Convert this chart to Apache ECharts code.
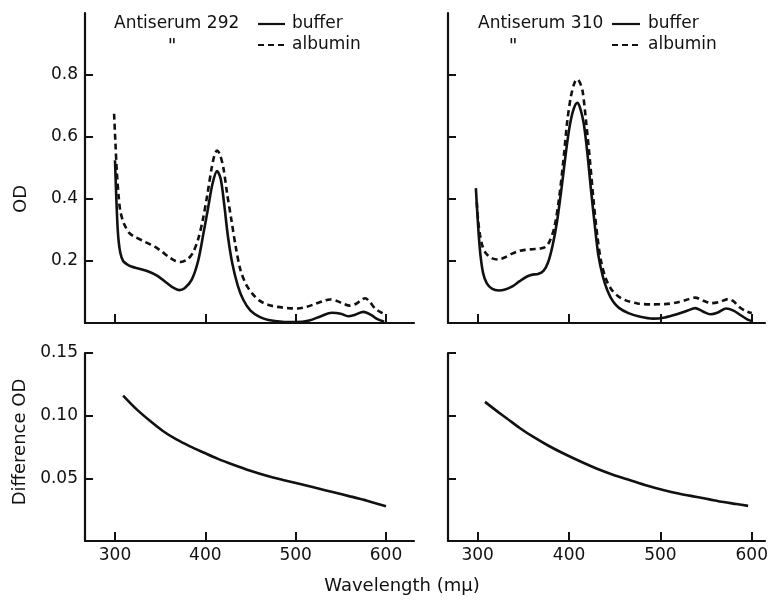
<!DOCTYPE html>
<html>
<head>
<meta charset="utf-8">
<script src="https://cdn.jsdelivr.net/npm/echarts@6/dist/echarts.min.js"></script>
<style>html,body{margin:0;padding:0;background:#fff}#c{width:772px;height:600px}</style>
</head>
<body>
<div id="c"></div>
<script>
// ---- data ----
var xTicks = [300, 400, 500, 600];
var odTicks = [0.2, 0.4, 0.6, 0.8];
var diffTicks = [0.05, 0.10, 0.15];

// Antiserum 292, buffer (wavelength, OD)
var wl292Buffer = [300,301,302.5,304,306,309,313,318,327,337,347,357,365,371,377,385,392,398,403,408,413,417,421,425,430,436,442,450,460,470,485,500,515,528,540,550,558,566,575,583,590,598];
var od292Buffer = [0.525,0.44,0.33,0.265,0.225,0.2,0.19,0.182,0.175,0.166,0.152,0.13,0.113,0.106,0.112,0.14,0.2,0.29,0.37,0.45,0.49,0.465,0.38,0.28,0.19,0.12,0.075,0.04,0.02,0.01,0.004,0.003,0.008,0.022,0.033,0.03,0.022,0.027,0.036,0.027,0.013,0.004];
// Antiserum 292, albumin
var wl292Albumin = [299,300.5,302,304,306,310,316,322,333,344,352,360,367,373,380,386,392,397,402,407,410,413,416,420,424,429,434,439,445,452,460,470,480,492,502,512,522,530,538,545,553,560,567,572,577,582,588,594,600];
var od292Albumin = [0.675,0.58,0.49,0.41,0.36,0.32,0.29,0.278,0.262,0.246,0.23,0.212,0.2,0.197,0.205,0.225,0.27,0.33,0.41,0.5,0.54,0.556,0.545,0.5,0.42,0.33,0.24,0.17,0.125,0.095,0.072,0.058,0.052,0.048,0.047,0.052,0.062,0.07,0.076,0.072,0.062,0.056,0.062,0.073,0.08,0.068,0.047,0.035,0.027];
// Antiserum 310, buffer
var wl310Buffer = [298,299.5,301,303,306,310,316,323,330,338,346,354,360,366,372,377,382,387,392,397,401,405,409,412,416,420,424,428,432,437,442,448,455,465,478,492,505,518,530,538,546,555,563,572,580,588,595,600];
var od310Buffer = [0.435,0.36,0.29,0.22,0.16,0.128,0.11,0.105,0.108,0.118,0.135,0.15,0.156,0.158,0.168,0.195,0.25,0.33,0.44,0.56,0.64,0.69,0.71,0.695,0.645,0.55,0.43,0.32,0.22,0.15,0.105,0.07,0.048,0.032,0.02,0.014,0.018,0.028,0.04,0.048,0.038,0.028,0.034,0.047,0.04,0.025,0.012,0.006];
// Antiserum 310, albumin
var wl310Albumin = [299,300.5,302.5,305,309,315,322,330,337,345,352,360,368,374,379,384,389,394,398,402,406,409,412,415,419,423,427,431,435,440,446,453,462,475,490,505,518,528,538,547,556,565,574,580,587,594,600];
var od310Albumin = [0.39,0.33,0.285,0.25,0.225,0.21,0.205,0.212,0.223,0.232,0.236,0.238,0.24,0.245,0.265,0.31,0.4,0.53,0.65,0.73,0.775,0.786,0.775,0.745,0.64,0.52,0.39,0.28,0.2,0.145,0.11,0.088,0.073,0.063,0.06,0.061,0.066,0.074,0.082,0.072,0.064,0.068,0.077,0.07,0.05,0.038,0.032];
// Difference OD
var wl292Diff = [309,324,339,353,368,383,398,414,431,449,468,486,505,523,542,560,579,600];
var od292Diff = [0.116,0.105,0.0957,0.0878,0.081,0.0755,0.0706,0.0655,0.0608,0.0562,0.052,0.0487,0.0455,0.0422,0.0389,0.0356,0.0322,0.0278];
var wl310Diff = [308,320,332,346,361,377,394,412,430,448,467,485,503,521,540,555,569,583,596];
var od310Diff = [0.111,0.1042,0.0978,0.0902,0.083,0.0762,0.0698,0.0636,0.0578,0.0529,0.0485,0.0443,0.0407,0.0377,0.0351,0.033,0.0311,0.0295,0.028];

function pairs(xs, ys){ return xs.map(function(x,i){ return [x, ys[i]]; }); }

var FONT = 'DejaVu Sans';
var black = '#111';

function xAxisCfg(idx, min, max, showLabels){
  return {
    type:'value', gridIndex: idx, min:min, max:max,
    axisLine:{show:true, onZero:false, lineStyle:{color:black, width:2.2}},
    axisTick:{show:true, inside:true, length:9, customValues:xTicks, lineStyle:{color:black, width:2}},
    axisLabel:{show:showLabels, customValues:xTicks, margin:6, color:black, fontFamily:FONT, fontSize:17},
    splitLine:{show:false}
  };
}
function yAxisCfg(idx, min, max, ticks, showLabels, dec){
  return {
    type:'value', gridIndex: idx, min:min, max:max,
    axisLine:{show:true, onZero:false, lineStyle:{color:black, width:2.2}},
    axisTick:{show:true, inside:true, length:8, customValues:ticks, lineStyle:{color:black, width:2}},
    axisLabel:{show:showLabels, customValues:ticks, margin:7, color:black, fontFamily:FONT, fontSize:17,
      formatter:function(v){ return v.toFixed(dec); }},
    splitLine:{show:false}
  };
}
function lineSeries(xi, yi, data, dashed){
  return {
    type:'line', xAxisIndex:xi, yAxisIndex:yi, data:data, showSymbol:false, symbol:'none',
    smooth:0.3, animation:false,
    lineStyle:{color:black, width:2.6, type: dashed ? [6,4] : 'solid'}
  };
}

var chart = echarts.init(document.getElementById('c'), null, {renderer:'canvas'});
var option = {
  backgroundColor:'#fff',
  animation:false,
  grid:[
    {left:85, top:13, width:329, height:310},
    {left:448, top:13, width:317, height:310},
    {left:85, top:353, width:329, height:188},
    {left:448, top:353, width:317, height:188}
  ],
  xAxis:[
    xAxisCfg(0, 266.8, 631, false),
    xAxisCfg(1, 267.5, 614.5, false),
    xAxisCfg(2, 266.8, 631, true),
    xAxisCfg(3, 267.5, 614.5, true)
  ],
  yAxis:[
    yAxisCfg(0, 0, 1.0, odTicks, true, 1),
    yAxisCfg(1, 0, 1.0, odTicks, false, 1),
    yAxisCfg(2, 0, 0.15, diffTicks, true, 2),
    yAxisCfg(3, 0, 0.15, diffTicks, false, 2)
  ],
  series:[
    lineSeries(0,0,pairs(wl292Buffer, od292Buffer), false),
    lineSeries(0,0,pairs(wl292Albumin, od292Albumin), true),
    lineSeries(1,1,pairs(wl310Buffer, od310Buffer), false),
    lineSeries(1,1,pairs(wl310Albumin, od310Albumin), true),
    lineSeries(2,2,pairs(wl292Diff, od292Diff), false),
    lineSeries(3,3,pairs(wl310Diff, od310Diff), false)
  ],
  graphic:[
    {type:'text', x:21, y:199, rotation:Math.PI/2, style:{text:'OD', font:'18px "DejaVu Sans"', fill:black, align:'center', verticalAlign:'middle'}},
    {type:'text', x:20, y:442, rotation:Math.PI/2, style:{text:'Difference OD', font:'18px "DejaVu Sans"', fill:black, align:'center', verticalAlign:'middle'}},
    {type:'text', x:402, y:586, style:{text:'Wavelength (m\u03bc)', font:'18px "DejaVu Sans"', fill:black, align:'center', verticalAlign:'middle'}},
    // legend left
    {type:'text', x:114, y:24, style:{text:'Antiserum 292', font:'17px "DejaVu Sans"', fill:black, align:'left', verticalAlign:'middle'}},
    {type:'line', shape:{x1:258, y1:24, x2:285, y2:24}, style:{stroke:black, lineWidth:2.2}},
    {type:'text', x:292, y:24, style:{text:'buffer', font:'17px "DejaVu Sans"', fill:black, align:'left', verticalAlign:'middle'}},
    {type:'text', x:172, y:47, style:{text:'"', font:'italic 19px "DejaVu Sans"', fill:black, align:'center', verticalAlign:'middle'}},
    {type:'line', shape:{x1:258, y1:45, x2:285, y2:45}, style:{stroke:black, lineWidth:2.2, lineDash:[6,4]}},
    {type:'text', x:292, y:45, style:{text:'albumin', font:'17px "DejaVu Sans"', fill:black, align:'left', verticalAlign:'middle'}},
    // legend right
    {type:'text', x:478, y:24, style:{text:'Antiserum 310', font:'17px "DejaVu Sans"', fill:black, align:'left', verticalAlign:'middle'}},
    {type:'line', shape:{x1:612, y1:24, x2:640, y2:24}, style:{stroke:black, lineWidth:2.2}},
    {type:'text', x:648, y:24, style:{text:'buffer', font:'17px "DejaVu Sans"', fill:black, align:'left', verticalAlign:'middle'}},
    {type:'text', x:513, y:47, style:{text:'"', font:'italic 19px "DejaVu Sans"', fill:black, align:'center', verticalAlign:'middle'}},
    {type:'line', shape:{x1:612, y1:45, x2:640, y2:45}, style:{stroke:black, lineWidth:2.2, lineDash:[6,4]}},
    {type:'text', x:648, y:45, style:{text:'albumin', font:'17px "DejaVu Sans"', fill:black, align:'left', verticalAlign:'middle'}}
  ]
};
chart.setOption(option);
</script>
</body>
</html>
